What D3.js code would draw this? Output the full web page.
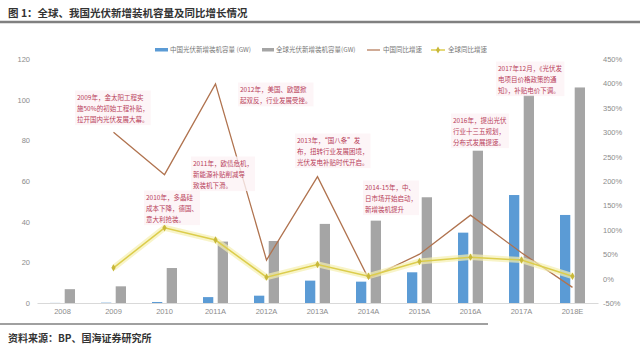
<!DOCTYPE html>
<html>
<head>
<meta charset="utf-8">
<script src="https://cdn.jsdelivr.net/npm/d3@7"></script>
<style>
  body { margin: 0; background: #fff; }
  svg { display: block; font-family: "Noto Sans CJK SC", "Noto Sans", sans-serif; }
</style>
</head>
<body>
<div id="container"></div>
<script>
// datos
const years = ["2008", "2009", "2010", "2011A", "2012A", "2013A", "2014A", "2015A", "2016A", "2017A", "2018E"];
const chinaGW = [0.05, 0.16, 0.5, 2.9, 3.6, 11, 10.5, 15.1, 34.6, 53.1, 43.3];
const globalGW = [6.8, 8.2, 17.2, 30.2, 30.5, 38.9, 40.5, 52, 74.9, 102.3, 106];
const chinaYoY = [null, 300, 213, 399, 38, 209, 0, 50, 130, 53, -18];
const globalYoY = [null, 22, 104, 79, 3, 29, 5, 35, 44, 38, 5];
const leftTicks = [0, 20, 40, 60, 80, 100, 120];
const rightTicks = [-50, 0, 50, 100, 150, 200, 250, 300, 350, 400, 450];
const legendLabels = ["中国光伏新增装机容量 (GW)", "全球光伏新增装机容量(GW)", "中国同比增速", "全球同比增速"];

const notes = [
  { x: 77, y: 100, lines: ["2009年，金太阳工程实", "施50%的初始工程补贴，", "拉开国内光伏发展大幕。"] },
  { x: 146, y: 200, lines: ["2010年，多晶硅", "成本下降，德国、", "意大利抢装。"] },
  { x: 193, y: 166, lines: ["2011年，欧债危机，", "新能源补贴削减导", "致装机下滑。"] },
  { x: 240, y: 92, lines: ["2012年，美国、欧盟掀", "起双反，行业发展受挫。"] },
  { x: 297, y: 143, lines: ["2013年，“国八条”发", "布，扭转行业发展困境，", "光伏发电补贴时代开启。"] },
  { x: 365, y: 190, lines: ["2014-15年，中、", "日市场开始启动，", "新增装机提升"] },
  { x: 453, y: 123, lines: ["2016年，提出光伏", "行业十三五规划，", "分布式发展提速。"] },
  { x: 498, y: 71, lines: ["2017年12月，《光伏发", "电项目价格政策的通", "知》，补贴电价下调。"] }
];

const WIDTH = 640, HEIGHT = 353;
const plot = { left: 37, right: 598, top: 59, bottom: 303 };

const blue = "#5b9bd5", gray = "#a5a5a5", brown = "#b0734f", yellow = "#dccd4c";

const svg = d3.select("#container").append("svg")
  .attr("width", WIDTH).attr("height", HEIGHT);

// titulo y reglas
svg.append("text")
  .attr("x", 8).attr("y", 17)
  .attr("font-size", 10.5).attr("font-weight", "bold").attr("fill", "#333")
  .text("图 1：全球、我国光伏新增装机容量及同比增长情况");
svg.append("line")
  .attr("x1", 0).attr("x2", 640).attr("y1", 22).attr("y2", 22)
  .attr("stroke", "#808080").attr("stroke-width", 2.5);
svg.append("line")
  .attr("x1", 0).attr("x2", 488).attr("y1", 324).attr("y2", 324)
  .attr("stroke", "#808080").attr("stroke-width", 1.5);
svg.append("text")
  .attr("x", 8).attr("y", 342)
  .attr("font-size", 10).attr("font-weight", "bold").attr("fill", "#333")
  .text("资料来源：BP、国海证券研究所");

// escalas
const xScale = d3.scaleBand().domain(years).range([plot.left, plot.right]);
const bw = xScale.bandwidth();
const xSub = d3.scaleBand().domain(["china", "global"])
  .range([bw / 2 - 12.5, bw / 2 + 12.5]).paddingInner(0.3);
const yLeft = d3.scaleLinear().domain([0, 120]).range([plot.bottom, plot.top]);
const yRight = d3.scaleLinear().domain([-50, 450]).range([plot.bottom, plot.top]);

// ejes
const styleAxis = (g) => {
  g.select(".domain").remove();
  g.selectAll("text").attr("fill", "#8c8c8c").attr("font-size", 7.5)
    .attr("font-family", "'Liberation Sans', Arial, sans-serif");
};
svg.append("g")
  .attr("transform", `translate(${plot.left},0)`)
  .call(d3.axisLeft(yLeft).tickValues(leftTicks).tickSize(0).tickPadding(7))
  .call(styleAxis);
svg.append("g")
  .attr("transform", `translate(${plot.right},0)`)
  .call(d3.axisRight(yRight).tickValues(rightTicks).tickSize(0).tickPadding(5).tickFormat((d) => d + "%"))
  .call(styleAxis);

// barras
const bars = svg.append("g");
bars.selectAll("rect.china")
  .data(years)
  .join("rect")
  .attr("class", "china")
  .attr("x", (d) => xScale(d) + xSub("china"))
  .attr("width", xSub.bandwidth())
  .attr("y", (d, i) => yLeft(chinaGW[i]))
  .attr("height", (d, i) => yLeft(0) - yLeft(chinaGW[i]))
  .attr("fill", blue);
bars.selectAll("rect.global")
  .data(years)
  .join("rect")
  .attr("class", "global")
  .attr("x", (d) => xScale(d) + xSub("global"))
  .attr("width", xSub.bandwidth())
  .attr("y", (d, i) => yLeft(globalGW[i]))
  .attr("height", (d, i) => yLeft(0) - yLeft(globalGW[i]))
  .attr("fill", gray);

const xAxis = svg.append("g")
  .attr("transform", `translate(0,${plot.bottom})`)
  .call(d3.axisBottom(xScale).tickSize(0).tickPadding(6));
xAxis.select(".domain").attr("stroke", "#d9d9d9");
xAxis.selectAll("text").attr("fill", "#8c8c8c").attr("font-size", 7.5)
  .attr("font-family", "'Liberation Sans', Arial, sans-serif");

// lineas
const cx = (d) => xScale(d) + bw / 2;
const line = (vals) => d3.line()
  .defined((d, i) => vals[i] !== null)
  .x((d) => cx(d))
  .y((d, i) => yRight(vals[i]));

svg.append("path")
  .attr("d", line(chinaYoY)(years))
  .attr("fill", "none").attr("stroke", brown).attr("stroke-width", 1.3);

svg.append("path")
  .attr("d", line(globalYoY)(years))
  .attr("fill", "none").attr("stroke", "#f5efb0").attr("stroke-width", 6).attr("opacity", 0.7);
svg.append("path")
  .attr("d", line(globalYoY)(years))
  .attr("fill", "none").attr("stroke", yellow).attr("stroke-width", 1.5);
svg.append("g").selectAll("path")
  .data(years.filter((d, i) => globalYoY[i] !== null))
  .join("path")
  .attr("d", d3.symbol(d3.symbolDiamond, 16))
  .attr("transform", (d) => `translate(${cx(d)},${yRight(globalYoY[years.indexOf(d)])})`)
  .attr("fill", "#c8b83a");

// leyenda
const legend = svg.append("g").attr("font-size", 6.5).attr("fill", "#777");
legend.append("rect").attr("x", 155).attr("y", 48).attr("width", 13).attr("height", 3.5).attr("fill", blue);
legend.append("text").attr("x", 170).attr("y", 52).text(legendLabels[0]);
legend.append("rect").attr("x", 262).attr("y", 48).attr("width", 12).attr("height", 3.5).attr("fill", gray);
legend.append("text").attr("x", 276).attr("y", 52).text(legendLabels[1]);
legend.append("line").attr("x1", 367).attr("x2", 380).attr("y1", 50).attr("y2", 50)
  .attr("stroke", brown).attr("stroke-width", 1.2);
legend.append("text").attr("x", 383).attr("y", 52).text(legendLabels[2]);
legend.append("line").attr("x1", 431).attr("x2", 445).attr("y1", 50).attr("y2", 50)
  .attr("stroke", yellow).attr("stroke-width", 1.5);
legend.append("path").attr("d", d3.symbol(d3.symbolDiamond, 14))
  .attr("transform", "translate(438,50)").attr("fill", "#c8b83a");
legend.append("text").attr("x", 448).attr("y", 52).text(legendLabels[3]);

// anotaciones
const ann = svg.append("g");
notes.forEach((n) => {
  const g = ann.append("g");
  const t = g.append("text").attr("font-size", 6.5).attr("fill", "#b8405a");
  n.lines.forEach((l, i) => {
    t.append("tspan").attr("x", n.x).attr("y", n.y + i * 10.8).text(l);
  });
  const bb = t.node().getBBox();
  g.insert("rect", "text")
    .attr("x", bb.x - 2).attr("y", bb.y - 1.5)
    .attr("width", bb.width + 4).attr("height", bb.height + 3)
    .attr("fill", "#fdf3f5").attr("opacity", 0.8);
});
</script>
</body>
</html>
